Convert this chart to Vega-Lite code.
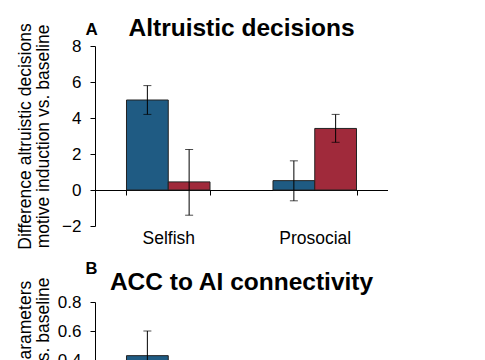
{
  "$schema": "https://vega.github.io/schema/vega-lite/v6.json",
  "padding": {"left": 16, "top": 16, "right": 0, "bottom": 0},
  "background": "white",
  "config": {
    "font": "Liberation Sans",
    "view": {"stroke": null},
    "axis": {"grid": false, "domainColor": "#000", "tickColor": "#000", "labelColor": "#000", "titleColor": "#000", "labelFontSize": 17, "titleFontSize": 17.5, "titleFontWeight": "normal", "labelFont": "Liberation Sans", "titleFont": "Liberation Sans", "labelOverlap": false},
    "title": {"font": "Liberation Sans", "color": "#000"},
    "concat": {"spacing": 10}
  },
  "datasets": {
    "altruism": [
      {"group": "Selfish", "motive": "Empathy", "value": 5.0, "low": 4.2, "high": 5.8},
      {"group": "Selfish", "motive": "Reciprocity", "value": 0.45, "low": -1.4, "high": 2.25},
      {"group": "Prosocial", "motive": "Empathy", "value": 0.52, "low": -0.6, "high": 1.62},
      {"group": "Prosocial", "motive": "Reciprocity", "value": 3.42, "low": 2.65, "high": 4.2}
    ],
    "connectivity": [
      {"group": "Selfish", "motive": "Empathy", "value": 0.43, "low": 0.26, "high": 0.6}
    ]
  },
  "vconcat": [
    {
      "title": {"text": "A", "anchor": "start", "fontSize": 17, "fontWeight": "bold", "baseline": "alphabetic", "offset": -35.6, "dx": 69},
      "vconcat": [
        {
          "width": 293,
          "height": 180,
          "title": {"text": "Altruistic decisions", "fontSize": 24.5, "fontWeight": "bold", "anchor": "middle", "frame": "group", "baseline": "alphabetic", "offset": -38.1},
          "data": {"name": "altruism"},
          "encoding": {
            "x": {"field": "group", "type": "nominal", "sort": ["Selfish", "Prosocial"], "scale": {"paddingInner": 0.43, "paddingOuter": 0.215},
              "axis": {"title": null, "labelAngle": 0, "orient": "bottom", "offset": -36, "tickBand": "extent", "tickSize": 5, "labelPadding": 34, "labelFontSize": 17.5}},
            "xOffset": {"field": "motive", "type": "nominal", "sort": ["Empathy", "Reciprocity"]}
          },
          "layer": [
            {"mark": {"type": "bar", "stroke": "#222", "strokeWidth": 1},
             "encoding": {
               "y": {"field": "value", "type": "quantitative", "scale": {"domain": [-2, 8], "nice": false},
                 "axis": {"title": ["Difference altruistic decisions", "motive induction vs. baseline"], "values": [-2, 0, 2, 4, 6, 8], "tickCount": 12, "labelOverlap": false, "tickSize": 5, "labelPadding": 9, "titlePadding": 9, "titleLineHeight": 18}},
               "color": {"field": "motive", "type": "nominal", "scale": {"domain": ["Empathy", "Reciprocity"], "range": ["#1f5b83", "#a02a3b"]}, "legend": null}
             }},
            {"mark": {"type": "rule", "color": "#000"}, "encoding": {"y": {"field": "low", "type": "quantitative"}, "y2": {"field": "high"}}},
            {"mark": {"type": "tick", "color": "#000", "size": 8, "thickness": 1}, "encoding": {"y": {"field": "low", "type": "quantitative"}}},
            {"mark": {"type": "tick", "color": "#000", "size": 8, "thickness": 1}, "encoding": {"y": {"field": "high", "type": "quantitative"}}}
          ]
        }
      ]
    },
    {
      "title": {"text": "B", "anchor": "start", "fontSize": 16.5, "fontWeight": "bold", "baseline": "alphabetic", "offset": -20.4, "dx": 69},
      "vconcat": [
        {
          "width": 293,
          "height": 174,
          "title": {"text": "ACC to AI connectivity", "fontSize": 24.5, "fontWeight": "bold", "anchor": "middle", "frame": "group", "baseline": "alphabetic", "offset": -37},
          "data": {"name": "connectivity"},
          "encoding": {
            "x": {"field": "group", "type": "nominal", "sort": ["Selfish", "Prosocial"], "scale": {"domain": ["Selfish", "Prosocial"], "paddingInner": 0.43, "paddingOuter": 0.215},
              "axis": {"title": null, "labelAngle": 0, "orient": "bottom", "offset": -58, "tickBand": "extent", "tickSize": 5, "labelPadding": 34, "labelFontSize": 17.5}},
            "xOffset": {"field": "motive", "type": "nominal", "scale": {"domain": ["Empathy", "Reciprocity"]}}
          },
          "layer": [
            {"mark": {"type": "bar", "stroke": "#222", "strokeWidth": 1},
             "encoding": {
               "y": {"field": "value", "type": "quantitative", "scale": {"domain": [-0.4, 0.8], "nice": false},
                 "axis": {"title": ["Difference DCM parameters", "motive induction vs. baseline"], "values": [-0.4, -0.2, 0, 0.2, 0.4, 0.6, 0.8], "tickCount": 12, "format": ".1f", "labelOverlap": false, "tickSize": 5, "labelPadding": 9, "titlePadding": -5, "titleLineHeight": 18}},
               "color": {"field": "motive", "type": "nominal", "scale": {"domain": ["Empathy", "Reciprocity"], "range": ["#1f5b83", "#a02a3b"]}, "legend": null}
             }},
            {"mark": {"type": "rule", "color": "#000"}, "encoding": {"y": {"field": "low", "type": "quantitative"}, "y2": {"field": "high"}}},
            {"mark": {"type": "tick", "color": "#000", "size": 8, "thickness": 1}, "encoding": {"y": {"field": "low", "type": "quantitative"}}},
            {"mark": {"type": "tick", "color": "#000", "size": 8, "thickness": 1}, "encoding": {"y": {"field": "high", "type": "quantitative"}}}
          ]
        }
      ]
    }
  ]
}
